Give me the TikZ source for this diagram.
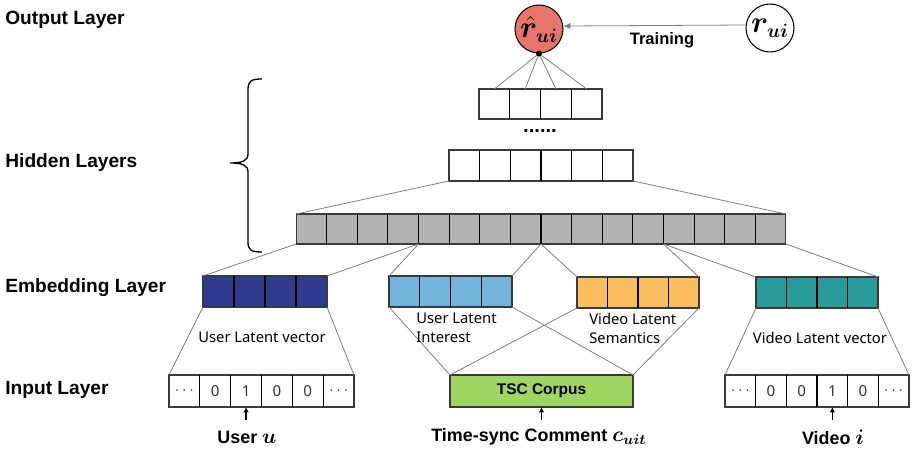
\documentclass[tikz,border=0pt]{standalone}
\usepackage{bm}
\usepackage{fontspec}
\setmainfont{Liberation Sans}
\newfontfamily\capfont{Noto Sans}
\usetikzlibrary{arrows.meta,calc}
\definecolor{conncol}{HTML}{7F7F7F}
\definecolor{boxcol}{HTML}{3A3A3A}
\definecolor{outred}{HTML}{E8756C}
\definecolor{dblue}{HTML}{2E3B8E}
\definecolor{lblue}{HTML}{74B3DA}
\definecolor{orng}{HTML}{FBBE5E}
\definecolor{tealc}{HTML}{2A9B9B}
\definecolor{lgreen}{HTML}{9FD563}
\definecolor{greyc}{HTML}{B3B3B3}
\tikzset{
  layerlbl/.style={anchor=west,font=\fontsize{10.9}{13}\selectfont\bfseries,inner sep=0pt},
  botlbl/.style={font=\fontsize{10.2}{12}\selectfont\bfseries,inner sep=0pt},
  cellrow/.style={draw=boxcol,line width=0.6pt,inner sep=0pt,outer sep=0pt},
  divline/.style={draw=black,line width=0.6pt},
  conn/.style={draw=conncol,line width=0.45pt},
  capt/.style={font=\capfont\fontsize{8.4}{10.8}\selectfont,inner sep=0pt},
  digit/.style={font=\capfont\fontsize{8.6}{10}\selectfont,text=black!80,inner sep=0pt},
  outcirc/.style={shape=circle,draw=black,line width=0.6pt,minimum size=0.96cm,inner sep=0pt,font=\fontsize{16}{18}\selectfont},
  uparr/.style={draw=black,line width=0.7pt,-{Latex[length=3pt,width=3pt]}},
}
\newcommand\mydiv[2]{%
  \pgfmathtruncatemacro\mylast{#2-1}%
  \foreach \k in {1,...,\mylast}{%
    \draw[divline] ($(#1.north west)!{\k/#2}!(#1.north east)$) -- ($(#1.south west)!{\k/#2}!(#1.south east)$);}}
\begin{document}
\begin{tikzpicture}[x=0.02cm,y=-0.02cm]
\useasboundingbox (0,0) rectangle (917,452);

% layer labels
\node[layerlbl] (lout) at (5,20) {Output Layer};
\node[layerlbl] (lhid) at (5,163) {Hidden Layers};
\node[layerlbl] (lemb) at (5,288) {Embedding Layer};
\node[layerlbl] (linp) at (5,390) {Input Layer};

% brace
\draw[line width=0.75pt] (262,79) .. controls (251,79) and (248,81) .. (248,90) -- (248,154)
  .. controls (248,161) and (242,163) .. (230,163)
  .. controls (242,163) and (248,165) .. (248,172) -- (248,242)
  .. controls (248,250) and (251,252) .. (262,252);

% output
\node[outcirc,fill=outred] (rhat) at (539,29) {$\hat{\bm{r}}_{\bm{ui}}$};
\node[outcirc,fill=white] (rr) at (770,28) {$\bm{r}_{\bm{ui}}$};
\draw[conn,-{Latex[length=4pt,width=3.5pt]}] (rr.173) -- (rhat.7);
\node[font=\fontsize{9.4}{11}\selectfont\bfseries,inner sep=0pt] (train) at (662,40) {Training};

% hidden rows
\node[cellrow,minimum width=2.46cm,minimum height=0.6cm] (H1) at (540.5,104) {};
\mydiv{H1}{4}
\node[font=\fontsize{11.5}{12}\selectfont\bfseries,inner sep=0pt] (dots) at (540,131) {......};
\node[cellrow,minimum width=3.68cm,minimum height=0.62cm] (H2) at (541,165.5) {};
\mydiv{H2}{6}
\node[cellrow,fill=greyc,minimum width=9.8cm,minimum height=0.6cm] (G) at (541,229) {};
\mydiv{G}{16}

% apex lines
\foreach \k in {1,...,4}{
  \draw[conn] (rhat.south) -- ($(H1.north west)!{(\k-0.5)/4}!(H1.north east)$);}
\fill (rhat.south) circle (3);

\draw[conn] (H2.south west) -- (G.north west);
\draw[conn] (H2.south east) -- (G.north east);

% embeddings
\node[cellrow,fill=dblue,minimum width=2.48cm,minimum height=0.62cm] (E1) at (265,291.5) {};
\mydiv{E1}{4}
\node[cellrow,fill=lblue,minimum width=2.46cm,minimum height=0.62cm] (E2) at (450.5,291.5) {};
\mydiv{E2}{4}
\node[cellrow,fill=orng,minimum width=2.44cm,minimum height=0.62cm] (E3) at (638,292.5) {};
\mydiv{E3}{4}
\node[cellrow,fill=tealc,minimum width=2.44cm,minimum height=0.62cm] (E4) at (817,292.5) {};
\mydiv{E4}{4}

\coordinate (g4) at ($(G.south west)!0.25!(G.south east)$);
\coordinate (g8) at ($(G.south west)!0.5!(G.south east)$);
\coordinate (g12) at ($(G.south west)!0.75!(G.south east)$);
\draw[conn] (G.south west) -- (E1.north west);
\draw[conn] (g4) -- (E1.north east);
\draw[conn] (g4) -- (E2.north west);
\draw[conn] (g8) -- (E2.north east);
\draw[conn] (g8) -- (E3.north west);
\draw[conn] (g12) -- (E3.north east);
\draw[conn] (g12) -- (E4.north west);
\draw[conn] (G.south east) -- (E4.north east);

% inputs
\node[cellrow,minimum width=3.7cm,minimum height=0.64cm] (I1) at (261.5,391) {};
\mydiv{I1}{6}
\node[cellrow,fill=lgreen,minimum width=3.66cm,minimum height=0.64cm,font=\fontsize{8.8}{10}\selectfont\bfseries] (T) at (541.5,391) {TSC Corpus};
\node[cellrow,minimum width=3.68cm,minimum height=0.64cm] (I2) at (817,391) {};
\mydiv{I2}{6}

\foreach \t [count=\k] in {$\cdots$,0,1,0,0,$\cdots$}{
  \node[digit] at ($(I1.west)!{(\k-0.5)/6}!(I1.east)$) {\t};}
\foreach \t [count=\k] in {$\cdots$,0,0,1,0,$\cdots$}{
  \node[digit] at ($(I2.west)!{(\k-0.5)/6}!(I2.east)$) {\t};}

\draw[conn] (E1.south west) -- (I1.north west);
\draw[conn] (E1.south east) -- (I1.north east);
\draw[conn] (E2.south west) -- (T.north west);
\draw[conn] (E2.south east) -- (T.north east);
\draw[conn] (E3.south west) -- (T.north west);
\draw[conn] (E3.south east) -- (T.north east);
\draw[conn] (E4.south west) -- (I2.north west);
\draw[conn] (E4.south east) -- (I2.north east);

% captions
\node[capt] (c1) at (262,337) {User Latent vector};
\node[capt,anchor=west,align=left] (c2) at (416,328) {User Latent\\Interest};
\node[capt,anchor=west,align=left] (c3) at (589,328) {Video Latent\\Semantics};
\node[capt] (c4) at (820,338) {Video Latent vector};

% bottom labels
\node[botlbl] (lu) at (247,437) {User \fontsize{11.5}{12}\selectfont$\bm{u}$};
\node[botlbl] (lc) at (539,437) {Time-sync Comment \fontsize{11.5}{12}\selectfont$\bm{c}_{\bm{uit}}$};
\node[botlbl] (lv) at (833,437) {Video \fontsize{11.5}{12}\selectfont$\bm{i}$};

\coordinate (a1) at ($(I1.south west)!{2.5/6}!(I1.south east)$);
\coordinate (a2) at ($(I2.south west)!{3.5/6}!(I2.south east)$);
\draw[uparr] ($(a1)+(0,13)$) -- (a1);
\draw[uparr] ($(T.south)+(0,13)$) -- (T.south);
\draw[uparr] ($(a2)+(0,13)$) -- (a2);
\end{tikzpicture}
\end{document}
